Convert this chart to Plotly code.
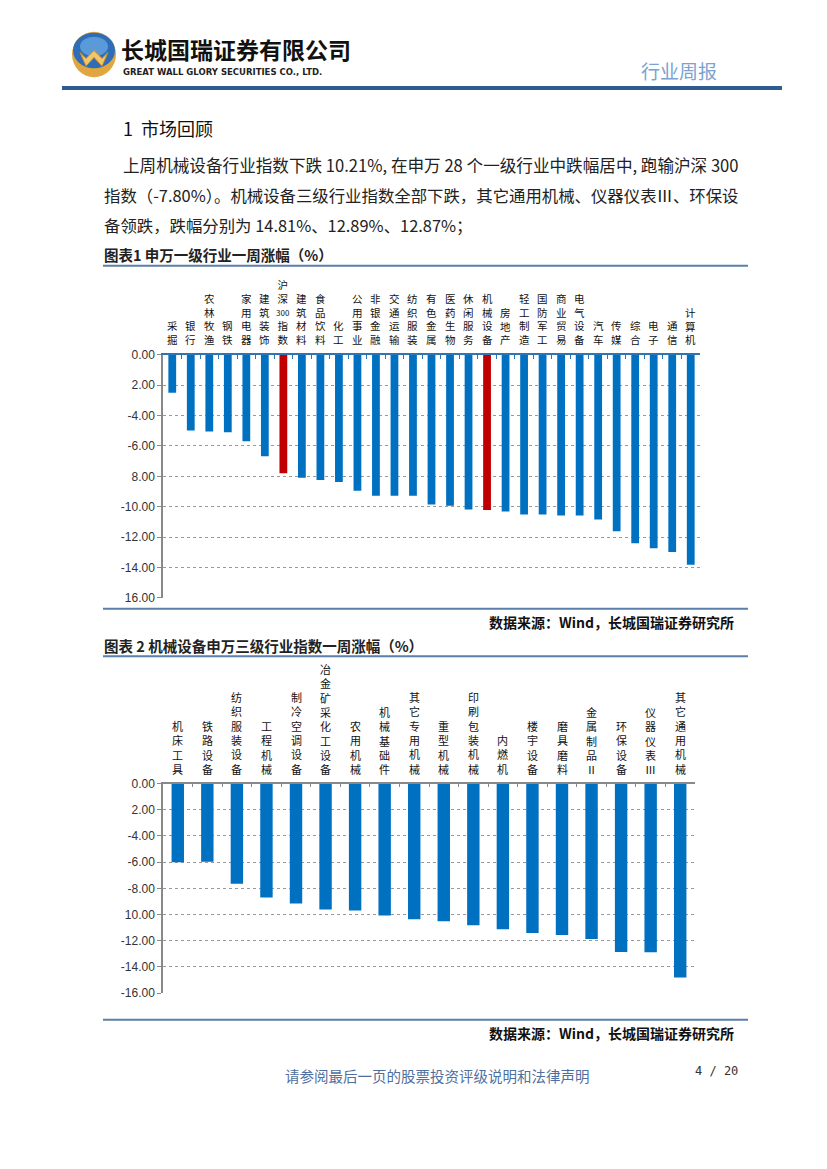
import plotly.graph_objects as go

# ---------------- data ----------------
cats1 = ["采掘", "银行", "农林牧渔", "钢铁", "家用电器", "建筑装饰", "沪深300指数", "建筑材料",
         "食品饮料", "化工", "公用事业", "非银金融", "交通运输", "纺织服装", "有色金属", "医药生物",
         "休闲服务", "机械设备", "房地产", "轻工制造", "国防军工", "商业贸易", "电气设备", "汽车",
         "传媒", "综合", "电子", "通信", "计算机"]
vals1 = [-2.50, -4.98, -5.05, -5.10, -5.70, -6.68, -7.80, -8.10,
         -8.24, -8.37, -8.95, -9.28, -9.28, -9.28, -9.86, -9.93,
         -10.19, -10.21, -10.32, -10.51, -10.51, -10.58, -10.58, -10.84,
         -11.62, -12.40, -12.73, -12.99, -13.83]
highlight1 = ["沪深300指数", "机械设备"]

cats2 = ["机床工具", "铁路设备", "纺织服装设备", "工程机械", "制冷空调设备", "冶金矿采化工设备",
         "农用机械", "机械基础件", "其它专用机械", "重型机械", "印刷包装机械", "内燃机",
         "楼宇设备", "磨具磨料", "金属制品Ⅱ", "环保设备", "仪器仪表Ⅲ", "其它通用机械"]
vals2 = [-6.00, -5.97, -7.65, -8.71, -9.16, -9.61,
         -9.69, -10.07, -10.37, -10.52, -10.82, -11.12,
         -11.42, -11.57, -11.88, -12.87, -12.89, -14.81]

tickvals = [0, -2, -4, -6, -8, -10, -12, -14, -16]
ticktext1 = ["0.00", "2.00", "-4.00", "-6.00", "8.00", "-10.00", "-12.00", "-14.00", "16.00"]
ticktext2 = ["0.00", "2.00", "-4.00", "-6.00", "-8.00", "10.00", "-12.00", "-14.00", "-16.00"]

# ---------------- layout helpers ----------------
W, H = 827, 1169
BLUE = "#0070C0"
RED = "#C00000"
CJK = "Noto Sans CJK SC"


def px_x(x):
    return x / W


def px_y(y):
    return 1 - y / H


def vertical(label, digit_size):
    parts = []
    buf = ""
    for ch in label:
        if ch.isdigit():
            buf += ch
        else:
            if buf:
                parts.append(f"<span style='font-size:{digit_size}px'>{buf}</span>")
                buf = ""
            parts.append(ch)
    if buf:
        parts.append(f"<span style='font-size:{digit_size}px'>{buf}</span>")
    return "<br>".join(parts)


fig = go.Figure()

fig.add_trace(go.Bar(
    x=cats1, y=vals1, xaxis="x", yaxis="y",
    marker=dict(color=[RED if c in highlight1 else BLUE for c in cats1], line=dict(width=0)),
    showlegend=False, hoverinfo="x+y",
))
fig.add_trace(go.Bar(
    x=cats2, y=vals2, xaxis="x2", yaxis="y2",
    marker=dict(color=BLUE, line=dict(width=0)),
    showlegend=False, hoverinfo="x+y",
))

axis_font = dict(family="Liberation Sans, Arial", size=12, color="#333333")
GRID_DASH = "3px,3px"

fig.update_layout(
    width=W, height=H,
    margin=dict(l=0, r=0, t=0, b=0),
    paper_bgcolor="white", plot_bgcolor="white",
    bargap=0.58,
    xaxis=dict(domain=[px_x(163), px_x(700)], anchor="y", side="top",
               showticklabels=False, showline=True, linecolor="#2E75B6", linewidth=1.5,
               ticks="inside", ticklen=4, tickcolor="#2E75B6", tickson="boundaries",
               showgrid=False, zeroline=False, fixedrange=True),
    yaxis=dict(domain=[px_y(598), px_y(352)], anchor="x", range=[-16, 0],
               tickvals=tickvals, ticktext=ticktext1, tickfont=axis_font,
               showline=True, linecolor="#888888", linewidth=1.5,
               ticks="outside", ticklen=4, tickcolor="#888888",
               showgrid=True, gridcolor="#9A9A9A", griddash=GRID_DASH, gridwidth=1,
               zeroline=False),
    xaxis2=dict(domain=[px_x(163), px_x(695)], anchor="y2", side="top",
                showticklabels=False, showline=True, linecolor="#888888", linewidth=1.5,
                ticks="inside", ticklen=4, tickcolor="#888888", tickson="boundaries",
                showgrid=False, zeroline=False),
    yaxis2=dict(domain=[px_y(998), px_y(786)], anchor="x2", range=[-16, 0],
                tickvals=tickvals, ticktext=ticktext2, tickfont=axis_font,
                showline=True, linecolor="#888888", linewidth=1.5,
                ticks="outside", ticklen=4, tickcolor="#888888",
                showgrid=True, gridcolor="#9A9A9A", griddash=GRID_DASH, gridwidth=1,
                zeroline=False),
)

annotations = []
# category labels (vertical, stacked characters above the zero line)
for c in cats1:
    annotations.append(dict(x=c, y=0, xref="x", yref="y", yanchor="bottom", xanchor="center",
                            yshift=6, showarrow=False, text=vertical(c, 8),
                            font=dict(family=CJK, size=10.5, color="#111111")))
for c in cats2:
    annotations.append(dict(x=c, y=0, xref="x2", yref="y2", yanchor="bottom", xanchor="center",
                            yshift=5, showarrow=False, text=vertical(c, 8),
                            font=dict(family=CJK, size=11, color="#111111")))


def txt(x, y, text, size, color="#222222", anchor="left", family=CJK):
    annotations.append(dict(x=px_x(x), y=px_y(y), xref="paper", yref="paper",
                            xanchor=anchor, yanchor="middle", showarrow=False,
                            text=text, font=dict(family=family, size=size, color=color)))


# header
txt(119, 43, "<b>长城国瑞证券有限公司</b>", 23, "#111111")
txt(121, 66, "<b>GREAT WALL GLORY SECURITIES CO., LTD.</b>", 8.5, "#222222", family="DejaVu Sans")
txt(719, 64, "行业周报", 19, "#7AA3D0", anchor="right")

# body text
txt(121, 122, "1  市场回顾", 18, "#111111")
txt(121, 160, "上周机械设备行业指数下跌 10.21%, 在申万 28 个一级行业中跌幅居中, 跑输沪深 300", 16.6)
txt(102, 190, "指数（-7.80%）。机械设备三级行业指数全部下跌，其它通用机械、仪器仪表Ⅲ、环保设", 16.4)
txt(102, 221, "备领跌，跌幅分别为 14.81%、12.89%、12.87%；", 16.4)

txt(102, 251, "<b>图表1 申万一级行业一周涨幅（%）</b>", 14.5, "#222222")
txt(736, 622, "<b>数据来源：Wind，长城国瑞证券研究所</b>", 14, "#111111", anchor="right")
txt(102, 646, "<b>图表 2 机械设备申万三级行业指数一周涨幅（%）</b>", 14.5, "#222222")
txt(736, 1038, "<b>数据来源：Wind，长城国瑞证券研究所</b>", 14, "#111111", anchor="right")

# footer
txt(437, 1081, "请参阅最后一页的股票投资评级说明和法律声明", 14.5, "#4F6F9F", anchor="center")
txt(740, 1077, "4 / 20", 12, "#333333", anchor="right", family="DejaVu Sans Mono")

fig.update_layout(annotations=annotations)

# decorative lines and logo
shapes = []


def hline(y, x0, x1, color, width):
    shapes.append(dict(type="line", xref="paper", yref="paper",
                       x0=px_x(x0), x1=px_x(x1), y0=px_y(y), y1=px_y(y),
                       line=dict(color=color, width=width)))


hline(82, 62, 782, "#2F5B8E", 4)
hline(262, 103, 748, "#5B7FA8", 2)
hline(609, 103, 748, "#5B7FA8", 2)
hline(657, 103, 748, "#5B7FA8", 2)
hline(1025, 103, 748, "#5B7FA8", 2)

# logo: gold ellipse, blue upper ellipse, light "M"
shapes.append(dict(type="circle", xref="paper", yref="paper",
                   x0=px_x(72), x1=px_x(116), y0=px_y(71), y1=px_y(25),
                   fillcolor="#E2A640", line=dict(width=0)))
shapes.append(dict(type="circle", xref="paper", yref="paper",
                   x0=px_x(73), x1=px_x(115), y0=px_y(62), y1=px_y(26),
                   fillcolor="#2E6DB8", line=dict(width=0)))
shapes.append(dict(type="circle", xref="paper", yref="paper",
                   x0=px_x(80), x1=px_x(108), y0=px_y(50), y1=px_y(30),
                   fillcolor="#5A9AD8", line=dict(width=0)))
m_pts = [(80, 46), (86, 60), (94, 51), (102, 60), (108, 46), (102, 52), (94, 44), (86, 52)]
path = "M " + " L ".join(f"{px_x(x)},{px_y(y)}" for x, y in m_pts) + " Z"
shapes.append(dict(type="path", xref="paper", yref="paper", path=path,
                   fillcolor="#F2C66A", line=dict(color="#C88A2A", width=1)))

fig.update_layout(shapes=shapes)

fig.write_html("out.html", config={"displayModeBar": False},
               post_script="document.body.style.margin='0px';document.body.style.overflow='hidden';")
